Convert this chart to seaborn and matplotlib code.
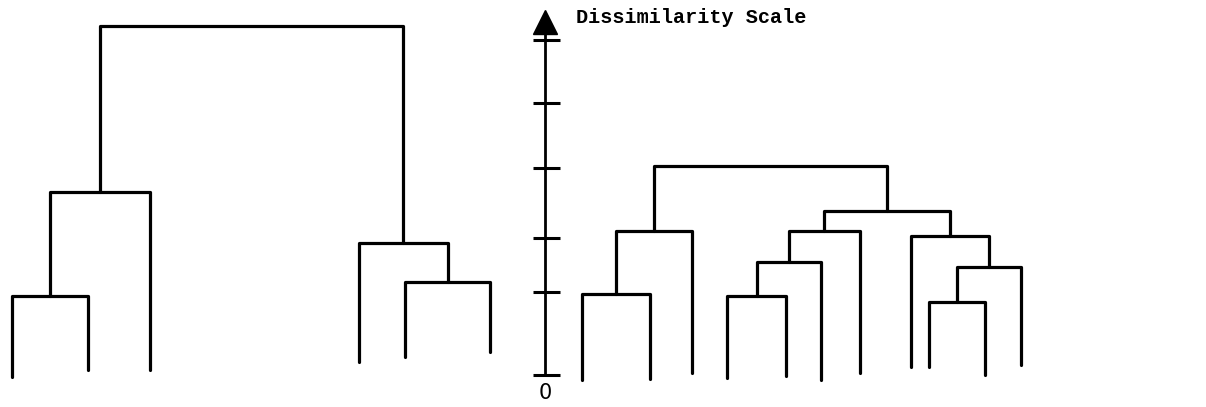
import pandas as pd
import seaborn as sns
import matplotlib.pyplot as plt

# two hand-drawn dendrograms sharing one dissimilarity scale
# heights in scale units (one unit ~ one tick step)

# left tree: leaf positions along the page and where each leaf line stops
left_leaf_x = [12, 88, 150, 359, 405, 490]
left_leaf_end = [-0.03, 0.07, 0.07, 0.19, 0.27, 0.34]
# merges (child a, child b, height); leaves are 0..n-1, merged clusters get n, n+1, ...
left_merges = [(0, 1, 1.18), (6, 2, 2.73), (4, 5, 1.39), (3, 8, 1.97), (7, 9, 5.21)]

# right tree
right_leaf_x = [582, 650, 692, 727, 786, 821, 860, 911, 929, 985, 1021]
right_leaf_end = [-0.07, -0.06, 0.03, -0.04, -0.01, -0.07, 0.03, 0.12, 0.12, 0.0, 0.15]
right_merges = [(0, 1, 1.21), (11, 2, 2.15), (3, 4, 1.18), (13, 5, 1.69), (14, 6, 2.15),
                (8, 9, 1.09), (16, 10, 1.61), (7, 17, 2.07), (15, 18, 2.45), (12, 19, 3.12)]

# the scale in the middle
scale_x = 545
scale_ticks = [0, 1.24, 2.04, 3.09, 4.06, 5.0]
scale_top = 5.15


def tree_segments(leaf_x, leaf_end, merges, tag):
    pos = list(leaf_x)
    top = list(leaf_end)
    rows = []
    for k, (a, b, h) in enumerate(merges):
        xa, xb = pos[a], pos[b]
        seg = f"{tag}{k}"
        # one bracket per merge: up the left child, across, down the right child
        rows += [(seg, xa, top[a]), (seg, xa, h), (seg, xb, h), (seg, xb, top[b])]
        pos.append((xa + xb) / 2)
        top.append(h)
    return rows


rows = tree_segments(left_leaf_x, left_leaf_end, left_merges, "L") + \
    tree_segments(right_leaf_x, right_leaf_end, right_merges, "R")
df = pd.DataFrame(rows, columns=["seg", "x", "d"])

sns.set_theme(style="white")
fig = plt.figure(figsize=(12.06, 4.07), dpi=100)
ax = fig.add_axes([0, 0, 1, 1])

sns.lineplot(data=df, x="x", y="d", units="seg", estimator=None, sort=False,
             color="black", linewidth=2.3, ax=ax)

# dissimilarity scale with arrow
ax.plot([scale_x, scale_x], [0, scale_top], color="black", lw=2)
ax.plot([scale_x], [scale_top + 0.12], marker="^", ms=17, color="black")
ax.hlines(scale_ticks, scale_x - 12, scale_x + 15, color="black", lw=2.2)
ax.text(scale_x, -0.27, "0", ha="center", va="center", fontsize=15,
        color="black", family=["DejaVu Sans"])
ax.text(576, 5.33, "Dissimilarity Scale", ha="left", va="center", fontsize=14.5,
        color="black", family=["Liberation Mono", "DejaVu Sans Mono"],
        fontweight="bold")

ax.set_xlim(0, 1206)
ax.set_ylim(-0.478, 5.597)
ax.axis("off")

fig.savefig("out.png", dpi=100, facecolor="white")
